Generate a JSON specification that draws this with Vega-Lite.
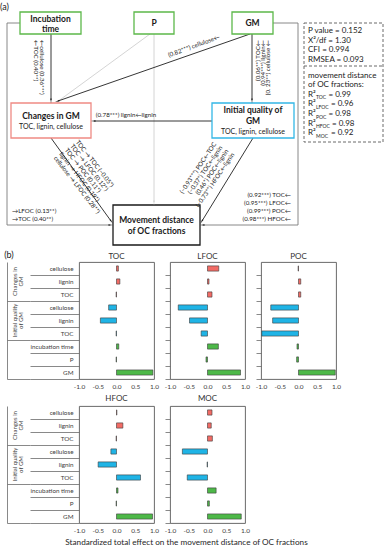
{
  "$schema": "https://vega.github.io/schema/vega-lite/v6.json",
  "padding": 0,
  "background": "white",
  "config": {
    "font": "Lato",
    "view": {"stroke": "#595959", "strokeWidth": 0.9},
    "axis": {"labelColor": "#404040", "tickColor": "#6b6b6b", "domainColor": "#6b6b6b", "labelFontSize": 6.3, "grid": false, "tickWidth": 0.8, "domainWidth": 0.8},
    "title": {"fontSize": 8, "fontWeight": "normal", "color": "#333333", "offset": 1, "frame": "group"}
  },
  "title": {"text": "Standardized total effect on  the movement distance of OC fractions", "orient": "bottom", "anchor": "middle", "frame": "bounds", "fontSize": 8.2, "fontWeight": "normal", "offset": 5, "dx": -7, "color": "#262626"},
  "resolve": {"scale": {"color": "independent"}},
  "data": {"name": "effects"},
  "datasets": {
    "effects": [
      {"fraction": "TOC", "group": "Changes in GM", "term": "Changes in GM · cellulose", "value": 0.05},
      {"fraction": "TOC", "group": "Changes in GM", "term": "Changes in GM · lignin", "value": 0.09},
      {"fraction": "TOC", "group": "Changes in GM", "term": "Changes in GM · TOC", "value": -0.01},
      {"fraction": "TOC", "group": "Initial quality of GM", "term": "Initial quality of GM · cellulose", "value": -0.21},
      {"fraction": "TOC", "group": "Initial quality of GM", "term": "Initial quality of GM · lignin", "value": -0.43},
      {"fraction": "TOC", "group": "Initial quality of GM", "term": "Initial quality of GM · TOC", "value": -0.01},
      {"fraction": "TOC", "group": "Other", "term": "Other · incubation time", "value": 0.06},
      {"fraction": "TOC", "group": "Other", "term": "Other · P", "value": -0.01},
      {"fraction": "TOC", "group": "Other", "term": "Other · GM", "value": 0.97},
      {"fraction": "LFOC", "group": "Changes in GM", "term": "Changes in GM · cellulose", "value": 0.30},
      {"fraction": "LFOC", "group": "Changes in GM", "term": "Changes in GM · lignin", "value": 0.04},
      {"fraction": "LFOC", "group": "Changes in GM", "term": "Changes in GM · TOC", "value": 0.12},
      {"fraction": "LFOC", "group": "Initial quality of GM", "term": "Initial quality of GM · cellulose", "value": -0.78},
      {"fraction": "LFOC", "group": "Initial quality of GM", "term": "Initial quality of GM · lignin", "value": -0.48},
      {"fraction": "LFOC", "group": "Initial quality of GM", "term": "Initial quality of GM · TOC", "value": -0.17},
      {"fraction": "LFOC", "group": "Other", "term": "Other · incubation time", "value": 0.29},
      {"fraction": "LFOC", "group": "Other", "term": "Other · P", "value": -0.04},
      {"fraction": "LFOC", "group": "Other", "term": "Other · GM", "value": 0.88},
      {"fraction": "POC", "group": "Changes in GM", "term": "Changes in GM · cellulose", "value": -0.01},
      {"fraction": "POC", "group": "Changes in GM", "term": "Changes in GM · lignin", "value": 0.06},
      {"fraction": "POC", "group": "Changes in GM", "term": "Changes in GM · TOC", "value": 0.06},
      {"fraction": "POC", "group": "Initial quality of GM", "term": "Initial quality of GM · cellulose", "value": -0.74},
      {"fraction": "POC", "group": "Initial quality of GM", "term": "Initial quality of GM · lignin", "value": -0.69},
      {"fraction": "POC", "group": "Initial quality of GM", "term": "Initial quality of GM · TOC", "value": -0.98},
      {"fraction": "POC", "group": "Other", "term": "Other · incubation time", "value": -0.04},
      {"fraction": "POC", "group": "Other", "term": "Other · P", "value": -0.05},
      {"fraction": "POC", "group": "Other", "term": "Other · GM", "value": 0.98},
      {"fraction": "HFOC", "group": "Changes in GM", "term": "Changes in GM · cellulose", "value": 0.01},
      {"fraction": "HFOC", "group": "Changes in GM", "term": "Changes in GM · lignin", "value": 0.17},
      {"fraction": "HFOC", "group": "Changes in GM", "term": "Changes in GM · TOC", "value": -0.01},
      {"fraction": "HFOC", "group": "Initial quality of GM", "term": "Initial quality of GM · cellulose", "value": -0.15},
      {"fraction": "HFOC", "group": "Initial quality of GM", "term": "Initial quality of GM · lignin", "value": -0.49},
      {"fraction": "HFOC", "group": "Initial quality of GM", "term": "Initial quality of GM · TOC", "value": 0.64},
      {"fraction": "HFOC", "group": "Other", "term": "Other · incubation time", "value": 0.04},
      {"fraction": "HFOC", "group": "Other", "term": "Other · P", "value": -0.01},
      {"fraction": "HFOC", "group": "Other", "term": "Other · GM", "value": 0.96},
      {"fraction": "MOC", "group": "Changes in GM", "term": "Changes in GM · cellulose", "value": 0.12},
      {"fraction": "MOC", "group": "Changes in GM", "term": "Changes in GM · lignin", "value": 0.10},
      {"fraction": "MOC", "group": "Changes in GM", "term": "Changes in GM · TOC", "value": 0.13},
      {"fraction": "MOC", "group": "Initial quality of GM", "term": "Initial quality of GM · cellulose", "value": -0.67},
      {"fraction": "MOC", "group": "Initial quality of GM", "term": "Initial quality of GM · lignin", "value": -0.01},
      {"fraction": "MOC", "group": "Initial quality of GM", "term": "Initial quality of GM · TOC", "value": -0.54},
      {"fraction": "MOC", "group": "Other", "term": "Other · incubation time", "value": 0.23},
      {"fraction": "MOC", "group": "Other", "term": "Other · P", "value": 0.05},
      {"fraction": "MOC", "group": "Other", "term": "Other · GM", "value": 0.90}
    ],
    "nodes": [
      {"role": "driver", "name": "Incubation time", "x": 20, "x2": 81, "y": 12, "y2": 34},
      {"role": "driver", "name": "P", "x": 134, "x2": 174, "y": 12, "y2": 34},
      {"role": "driver", "name": "GM", "x": 232, "x2": 273, "y": 12, "y2": 34},
      {"role": "change", "name": "Changes in GM", "x": 11, "x2": 91, "y": 103, "y2": 138},
      {"role": "quality", "name": "Initial quality of GM", "x": 212, "x2": 294, "y": 103, "y2": 138},
      {"role": "outcome", "name": "Movement distance of OC fractions", "x": 113, "x2": 200, "y": 205, "y2": 245},
      {"role": "fit", "name": "model fit", "x": 304, "x2": 383, "y": 23, "y2": 142}
    ],
    "links": [
      {"tone": "frame", "x": 20, "y": 23, "x2": 7, "y2": 23},
      {"tone": "frame", "x": 7, "y": 23, "x2": 7, "y2": 225},
      {"tone": "frame", "x": 7, "y": 225, "x2": 110, "y2": 225},
      {"tone": "frame", "x": 273, "y": 23, "x2": 298, "y2": 23},
      {"tone": "frame", "x": 298, "y": 23, "x2": 298, "y2": 225},
      {"tone": "frame", "x": 298, "y": 225, "x2": 203, "y2": 225},
      {"tone": "light", "x": 150, "y": 34, "x2": 57, "y2": 102},
      {"tone": "light", "x": 154, "y": 34, "x2": 154, "y2": 202},
      {"tone": "main", "x": 51, "y": 34, "x2": 51, "y2": 100},
      {"tone": "main", "x": 250, "y": 34, "x2": 58, "y2": 101},
      {"tone": "main", "x": 252, "y": 34, "x2": 252, "y2": 100},
      {"tone": "main", "x": 212, "y": 121, "x2": 94, "y2": 121},
      {"tone": "main", "x": 51, "y": 138, "x2": 111, "y2": 221},
      {"tone": "main", "x": 253, "y": 138, "x2": 202, "y2": 221},
      {"tone": "divider", "x": 304, "y": 66, "x2": 383, "y2": 66}
    ],
    "heads": [
      {"tone": "main", "x": 110, "y": 225, "angle": 90},
      {"tone": "main", "x": 203, "y": 225, "angle": 270},
      {"tone": "main", "x": 51, "y": 100, "angle": 180},
      {"tone": "main", "x": 58, "y": 101, "angle": 251},
      {"tone": "main", "x": 252, "y": 100, "angle": 180},
      {"tone": "main", "x": 94, "y": 121, "angle": 270},
      {"tone": "main", "x": 111, "y": 221, "angle": 144},
      {"tone": "main", "x": 202, "y": 221, "angle": 212},
      {"tone": "light", "x": 154, "y": 202, "angle": 180}
    ],
    "notes": [
      {"role": "tag", "text": "  (a)", "x": 0, "y": 7, "angle": 0},
      {"role": "node", "text": "Incubation", "x": 50.5, "y": 18.5, "angle": 0},
      {"role": "node", "text": "time", "x": 50.5, "y": 29, "angle": 0},
      {"role": "node", "text": "P", "x": 154, "y": 23, "angle": 0},
      {"role": "node", "text": "GM", "x": 252.5, "y": 23, "angle": 0},
      {"role": "node", "text": "Changes in GM", "x": 51, "y": 115.5, "angle": 0},
      {"role": "node", "text": "Initial quality of", "x": 253, "y": 110, "angle": 0},
      {"role": "node", "text": "GM", "x": 253, "y": 121, "angle": 0},
      {"role": "node", "text": "Movement distance", "x": 156.5, "y": 220, "angle": 0},
      {"role": "node", "text": "of OC fractions", "x": 156.5, "y": 231, "angle": 0},
      {"role": "node-sub", "text": "TOC, lignin, cellulose", "x": 51, "y": 126.5, "angle": 0},
      {"role": "node-sub", "text": "TOC, lignin, cellulose", "x": 253, "y": 132, "angle": 0},
      {"role": "start", "text": "←TOC (0.40**)", "x": 36, "y": 40, "angle": 90},
      {"role": "start", "text": "←cellulose (0.36***)", "x": 42, "y": 40, "angle": 90},
      {"role": "start", "text": "TOC → TOC (−0.05*)", "x": 77, "y": 141, "angle": 52},
      {"role": "start", "text": "TOC → LFOC (0.12*)", "x": 71.5, "y": 145, "angle": 52},
      {"role": "start", "text": "TOC → POC (0.11*)", "x": 66, "y": 149, "angle": 52},
      {"role": "start", "text": "lignin → HFOC (0.19*)", "x": 60.5, "y": 153, "angle": 52},
      {"role": "start", "text": "cellulose → LFOC (0.28**)", "x": 55, "y": 157, "angle": 52},
      {"role": "start", "text": "→LFOC (0.13**)", "x": 12, "y": 211, "angle": 0},
      {"role": "start", "text": "→TOC (0.40**)", "x": 12, "y": 219, "angle": 0},
      {"role": "end", "text": "(0.06**) TOC←", "x": 258, "y": 40, "angle": -90},
      {"role": "end", "text": "(0.94***) lignin←", "x": 263, "y": 40, "angle": -90},
      {"role": "end", "text": "(0. 23**) cellulose ←", "x": 268, "y": 40, "angle": -90},
      {"role": "end", "text": "(−0.93***) POC←TOC", "x": 215, "y": 143, "angle": -56},
      {"role": "end", "text": "(−0.37*) TOC←lignin", "x": 221, "y": 146.5, "angle": -56},
      {"role": "end", "text": "(0.46*) POC←lignin", "x": 227, "y": 150, "angle": -56},
      {"role": "end", "text": "(−0.73**) HFOC←lignin", "x": 233, "y": 153.5, "angle": -56},
      {"role": "end", "text": "(0.92***) TOC←", "x": 291, "y": 195, "angle": 0},
      {"role": "end", "text": "(0.95***) LFOC←", "x": 291, "y": 203, "angle": 0},
      {"role": "end", "text": "(0.99***) POC←", "x": 291, "y": 211, "angle": 0},
      {"role": "end", "text": "(0.98***) HFOC←", "x": 291, "y": 218.5, "angle": 0},
      {"role": "mid", "text": "(0.82***) cellulose←", "x": 194, "y": 46, "angle": -20},
      {"role": "mid", "text": "(0.78***) lignin←lignin", "x": 126, "y": 114.5, "angle": 0},
      {"role": "fit", "text": "P value = 0.152", "x": 308, "y": 31, "angle": 0},
      {"role": "fit", "text": "X²/df = 1.30", "x": 308, "y": 40.5, "angle": 0},
      {"role": "fit", "text": "CFI = 0.994", "x": 308, "y": 50, "angle": 0},
      {"role": "fit", "text": "RMSEA = 0.093", "x": 308, "y": 59.5, "angle": 0},
      {"role": "fit", "text": "movement distance", "x": 308, "y": 76, "angle": 0},
      {"role": "fit", "text": "of OC fractions:", "x": 308, "y": 85, "angle": 0},
      {"role": "fit", "text": "R²", "x": 308, "y": 94.5, "angle": 0},
      {"role": "fit", "text": "R²", "x": 308, "y": 104, "angle": 0},
      {"role": "fit", "text": "R²", "x": 308, "y": 114, "angle": 0},
      {"role": "fit", "text": "R²", "x": 308, "y": 123.5, "angle": 0},
      {"role": "fit", "text": "R²", "x": 308, "y": 133, "angle": 0},
      {"role": "fit", "text": "= 0.99", "x": 328.5, "y": 94.5, "angle": 0},
      {"role": "fit", "text": "= 0.96", "x": 331, "y": 104, "angle": 0},
      {"role": "fit", "text": "= 0.98", "x": 328.5, "y": 114, "angle": 0},
      {"role": "fit", "text": "= 0.98", "x": 332, "y": 123.5, "angle": 0},
      {"role": "fit", "text": "= 0.92", "x": 331, "y": 133, "angle": 0},
      {"role": "fit-sub", "text": "TOC", "x": 316, "y": 97, "angle": 0},
      {"role": "fit-sub", "text": "LFOC", "x": 316, "y": 106.5, "angle": 0},
      {"role": "fit-sub", "text": "POC", "x": 316, "y": 116.5, "angle": 0},
      {"role": "fit-sub", "text": "HFOC", "x": 316, "y": 126, "angle": 0},
      {"role": "fit-sub", "text": "MOC", "x": 316, "y": 135.5, "angle": 0}
    ]
  },
  "spacing": 4,
  "vconcat": [
    {
      "width": 308,
      "height": 246,
      "view": {"stroke": null},
      "encoding": {
        "x": {"field": "x", "type": "quantitative", "scale": {"domain": [79, 387], "nice": false, "zero": false}, "axis": null},
        "y": {"field": "y", "type": "quantitative", "scale": {"domain": [0, 246], "nice": false, "zero": false, "reverse": true}, "axis": null}
      },
      "layer": [
        {
          "data": {"name": "links"},
          "transform": [{"filter": "datum.tone !== 'divider'"}],
          "mark": {"type": "rule", "strokeWidth": 0.9},
          "encoding": {
            "x2": {"field": "x2"},
            "y2": {"field": "y2"},
            "color": {"field": "tone", "type": "nominal", "scale": {"domain": ["main", "light", "frame"], "range": ["#1f1f1f", "#cfcfcf", "#7a7a7a"]}, "legend": null}
          }
        },
        {
          "data": {"name": "links"},
          "transform": [{"filter": "datum.tone === 'divider'"}],
          "mark": {"type": "rule", "strokeWidth": 1, "strokeDash": [3, 2], "color": "#6b6b6b"},
          "encoding": {"x2": {"field": "x2"}, "y2": {"field": "y2"}}
        },
        {
          "data": {"name": "nodes"},
          "transform": [{"filter": "datum.role !== 'fit'"}],
          "mark": {"type": "rect", "fill": "white", "strokeWidth": 1.3},
          "encoding": {
            "x2": {"field": "x2"},
            "y2": {"field": "y2"},
            "stroke": {"field": "role", "type": "nominal", "scale": {"domain": ["driver", "change", "quality", "outcome"], "range": ["#5CB84A", "#EF8A84", "#33B7E6", "#1a1a1a"]}, "legend": null}
          }
        },
        {
          "data": {"name": "nodes"},
          "transform": [{"filter": "datum.role === 'fit'"}],
          "mark": {"type": "rect", "filled": false, "stroke": "#6b6b6b", "strokeWidth": 1, "strokeDash": [3, 2]},
          "encoding": {"x2": {"field": "x2"}, "y2": {"field": "y2"}}
        },
        {
          "data": {"name": "heads"},
          "mark": {"type": "point", "shape": "wedge", "filled": true, "size": 30, "opacity": 1},
          "encoding": {
            "angle": {"field": "angle", "type": "quantitative", "scale": null},
            "color": {"field": "tone", "type": "nominal", "scale": {"domain": ["main", "light", "frame"], "range": ["#1f1f1f", "#cfcfcf", "#7a7a7a"]}, "legend": null}
          }
        },
        {
          "data": {"name": "notes"},
          "transform": [{"filter": "datum.role === 'tag'"}],
          "mark": {"type": "text", "align": "left", "baseline": "middle", "fontSize": 9, "color": "#1a1a1a"},
          "encoding": {"text": {"field": "text"}}
        },
        {
          "data": {"name": "notes"},
          "transform": [{"filter": "datum.role === 'node'"}],
          "mark": {"type": "text", "align": "center", "baseline": "middle", "fontSize": 8.5, "fontWeight": "bold", "color": "#1a1a1a"},
          "encoding": {"text": {"field": "text"}}
        },
        {
          "data": {"name": "notes"},
          "transform": [{"filter": "datum.role === 'node-sub'"}],
          "mark": {"type": "text", "align": "center", "baseline": "middle", "fontSize": 7, "color": "#1a1a1a"},
          "encoding": {"text": {"field": "text"}}
        },
        {
          "data": {"name": "notes"},
          "transform": [{"filter": "datum.role === 'start'"}],
          "mark": {"type": "text", "align": "left", "baseline": "middle", "fontSize": 6.2, "color": "#1a1a1a"},
          "encoding": {"angle": {"field": "angle", "type": "quantitative", "scale": null}, "text": {"field": "text"}}
        },
        {
          "data": {"name": "notes"},
          "transform": [{"filter": "datum.role === 'end'"}],
          "mark": {"type": "text", "align": "right", "baseline": "middle", "fontSize": 6.2, "color": "#1a1a1a"},
          "encoding": {"angle": {"field": "angle", "type": "quantitative", "scale": null}, "text": {"field": "text"}}
        },
        {
          "data": {"name": "notes"},
          "transform": [{"filter": "datum.role === 'mid'"}],
          "mark": {"type": "text", "align": "center", "baseline": "middle", "fontSize": 6.2, "color": "#1a1a1a"},
          "encoding": {"angle": {"field": "angle", "type": "quantitative", "scale": null}, "text": {"field": "text"}}
        },
        {
          "data": {"name": "notes"},
          "transform": [{"filter": "datum.role === 'fit'"}],
          "mark": {"type": "text", "align": "left", "baseline": "middle", "fontSize": 8, "color": "#1a1a1a"},
          "encoding": {"text": {"field": "text"}}
        },
        {
          "data": {"name": "notes"},
          "transform": [{"filter": "datum.role === 'fit-sub'"}],
          "mark": {"type": "text", "align": "left", "baseline": "middle", "fontSize": 5, "color": "#1a1a1a"},
          "encoding": {"text": {"field": "text"}}
        }
      ]
    },
    {
      "title": {"text": "(b)", "anchor": "start", "frame": "bounds", "fontSize": 9, "color": "#1a1a1a", "offset": 1, "dx": -2, "dy": 8},
      "spacing": 4,
      "hconcat": [
        {
          "title": "TOC",
          "width": 75,
          "height": 117,
          "transform": [{"filter": "datum.fraction === 'TOC'"}],
          "encoding": {
            "x": {"field": "value", "type": "quantitative", "stack": null, "scale": {"domain": [-1, 1], "nice": false}, "axis": {"title": null, "values": [-1, -0.5, 0, 0.5, 1], "ticks": false, "domain": false, "labelPadding": 4, "labelFontSize": 6.5, "labelFlush": false, "labelOverlap": false, "labelExpr": "replace(format(datum.value, '.1f'), '\u2212', '-')"}}
          },
          "layer": [
            {
              "mark": {"type": "bar", "height": {"band": 0.4}, "stroke": "#3a3a3a", "strokeWidth": 0.6},
              "encoding": {
                "y": {"field": "term", "type": "nominal", "scale": {"domain": ["Changes in GM · cellulose", "Changes in GM · lignin", "Changes in GM · TOC", "Initial quality of GM · cellulose", "Initial quality of GM · lignin", "Initial quality of GM · TOC", "Other · incubation time", "Other · P", "Other · GM"], "paddingInner": 0, "paddingOuter": 0},
                  "axis": {"orient": "left", "title": null, "domain": false, "bandPosition": 1, "tickExtra": false, "tickSize": 49, "labelPadding": -43, "labelFontSize": 6.3, "labelExpr": "split(datum.value, ' · ')[1]"}},
                "color": {"field": "group", "type": "nominal", "scale": {"domain": ["Changes in GM", "Initial quality of GM", "Other"], "range": ["#F26B65", "#1FB4E6", "#4DB848"]}, "legend": null}
              }
            },
            {
              "mark": {"type": "point", "opacity": 0},
              "encoding": {
                "y": {"field": "group", "type": "nominal", "scale": {"type": "band", "domain": ["Changes in GM", "Initial quality of GM", "Other"], "paddingInner": 0, "paddingOuter": 0},
                  "axis": {"orient": "left", "offset": 49, "title": null, "domain": false, "labels": false, "bandPosition": 1, "tickExtra": false, "tickSize": 23}}
              }
            },
            {
              "mark": {"type": "point", "opacity": 0},
              "encoding": {
                "y": {"field": "group", "type": "nominal", "scale": {"type": "band", "domain": ["Changes in GM", "Initial quality of GM", "Other"], "paddingInner": 0, "paddingOuter": 0},
                  "axis": {"orient": "left", "offset": 72, "title": null, "domain": true, "ticks": false, "tickSize": 0, "labelAngle": -90, "labelAlign": "center", "labelBaseline": "middle", "labelPadding": -7, "labelFontSize": 6, "labelLineHeight": 6.5, "labelColor": "#404040",
                    "labelExpr": "datum.value === 'Changes in GM' ? ['Changes in', 'GM'] : datum.value === 'Initial quality of GM' ? ['Initial quality', 'of GM'] : ''"}}
              }
            }
          ],
          "resolve": {"scale": {"y": "independent"}, "axis": {"y": "independent"}}
        },
        {
          "title": "LFOC",
          "width": 75,
          "height": 117,
          "transform": [{"filter": "datum.fraction === 'LFOC'"}],
          "mark": {"type": "bar", "height": {"band": 0.4}, "stroke": "#3a3a3a", "strokeWidth": 0.6},
          "encoding": {
            "y": {"field": "term", "type": "nominal", "scale": {"domain": ["Changes in GM · cellulose", "Changes in GM · lignin", "Changes in GM · TOC", "Initial quality of GM · cellulose", "Initial quality of GM · lignin", "Initial quality of GM · TOC", "Other · incubation time", "Other · P", "Other · GM"], "paddingInner": 0, "paddingOuter": 0},
              "axis": {"orient": "left", "title": null, "domain": false, "labels": false, "bandPosition": 1, "tickExtra": false, "tickSize": 5}},
            "x": {"field": "value", "type": "quantitative", "stack": null, "scale": {"domain": [-1, 1], "nice": false}, "axis": {"title": null, "values": [-1, -0.5, 0, 0.5, 1], "ticks": false, "domain": false, "labelPadding": 4, "labelFontSize": 6.5, "labelFlush": false, "labelOverlap": false, "labelExpr": "replace(format(datum.value, '.1f'), '\u2212', '-')"}},
            "color": {"field": "group", "type": "nominal", "scale": {"domain": ["Changes in GM", "Initial quality of GM", "Other"], "range": ["#F26B65", "#1FB4E6", "#4DB848"]}, "legend": null}
          }
        },
        {
          "title": "POC",
          "width": 75,
          "height": 117,
          "transform": [{"filter": "datum.fraction === 'POC'"}],
          "mark": {"type": "bar", "height": {"band": 0.4}, "stroke": "#3a3a3a", "strokeWidth": 0.6},
          "encoding": {
            "y": {"field": "term", "type": "nominal", "scale": {"domain": ["Changes in GM · cellulose", "Changes in GM · lignin", "Changes in GM · TOC", "Initial quality of GM · cellulose", "Initial quality of GM · lignin", "Initial quality of GM · TOC", "Other · incubation time", "Other · P", "Other · GM"], "paddingInner": 0, "paddingOuter": 0},
              "axis": {"orient": "left", "title": null, "domain": false, "labels": false, "bandPosition": 1, "tickExtra": false, "tickSize": 5}},
            "x": {"field": "value", "type": "quantitative", "stack": null, "scale": {"domain": [-1, 1], "nice": false}, "axis": {"title": null, "values": [-1, -0.5, 0, 0.5, 1], "ticks": false, "domain": false, "labelPadding": 4, "labelFontSize": 6.5, "labelFlush": false, "labelOverlap": false, "labelExpr": "replace(format(datum.value, '.1f'), '\u2212', '-')"}},
            "color": {"field": "group", "type": "nominal", "scale": {"domain": ["Changes in GM", "Initial quality of GM", "Other"], "range": ["#F26B65", "#1FB4E6", "#4DB848"]}, "legend": null}
          }
        }
      ]
    },
    {
      "spacing": 4,
      "hconcat": [
        {
          "title": {"text": "HFOC", "offset": 3},
          "width": 75,
          "height": 117,
          "transform": [{"filter": "datum.fraction === 'HFOC'"}],
          "encoding": {
            "x": {"field": "value", "type": "quantitative", "stack": null, "scale": {"domain": [-1, 1], "nice": false}, "axis": {"title": null, "values": [-1, -0.5, 0, 0.5, 1], "ticks": false, "domain": false, "labelPadding": 4, "labelFontSize": 6.5, "labelFlush": false, "labelOverlap": false, "labelExpr": "replace(format(datum.value, '.1f'), '\u2212', '-')"}}
          },
          "layer": [
            {
              "mark": {"type": "bar", "height": {"band": 0.4}, "stroke": "#3a3a3a", "strokeWidth": 0.6},
              "encoding": {
                "y": {"field": "term", "type": "nominal", "scale": {"domain": ["Changes in GM · cellulose", "Changes in GM · lignin", "Changes in GM · TOC", "Initial quality of GM · cellulose", "Initial quality of GM · lignin", "Initial quality of GM · TOC", "Other · incubation time", "Other · P", "Other · GM"], "paddingInner": 0, "paddingOuter": 0},
                  "axis": {"orient": "left", "title": null, "domain": false, "bandPosition": 1, "tickExtra": false, "tickSize": 49, "labelPadding": -43, "labelFontSize": 6.3, "labelExpr": "split(datum.value, ' · ')[1]"}},
                "color": {"field": "group", "type": "nominal", "scale": {"domain": ["Changes in GM", "Initial quality of GM", "Other"], "range": ["#F26B65", "#1FB4E6", "#4DB848"]}, "legend": null}
              }
            },
            {
              "mark": {"type": "point", "opacity": 0},
              "encoding": {
                "y": {"field": "group", "type": "nominal", "scale": {"type": "band", "domain": ["Changes in GM", "Initial quality of GM", "Other"], "paddingInner": 0, "paddingOuter": 0},
                  "axis": {"orient": "left", "offset": 49, "title": null, "domain": false, "labels": false, "bandPosition": 1, "tickExtra": false, "tickSize": 23}}
              }
            },
            {
              "mark": {"type": "point", "opacity": 0},
              "encoding": {
                "y": {"field": "group", "type": "nominal", "scale": {"type": "band", "domain": ["Changes in GM", "Initial quality of GM", "Other"], "paddingInner": 0, "paddingOuter": 0},
                  "axis": {"orient": "left", "offset": 72, "title": null, "domain": true, "ticks": false, "tickSize": 0, "labelAngle": -90, "labelAlign": "center", "labelBaseline": "middle", "labelPadding": -7, "labelFontSize": 6, "labelLineHeight": 6.5, "labelColor": "#404040",
                    "labelExpr": "datum.value === 'Changes in GM' ? ['Changes in', 'GM'] : datum.value === 'Initial quality of GM' ? ['Initial quality', 'of GM'] : ''"}}
              }
            }
          ],
          "resolve": {"scale": {"y": "independent"}, "axis": {"y": "independent"}}
        },
        {
          "title": {"text": "MOC", "offset": 3},
          "width": 75,
          "height": 117,
          "transform": [{"filter": "datum.fraction === 'MOC'"}],
          "mark": {"type": "bar", "height": {"band": 0.4}, "stroke": "#3a3a3a", "strokeWidth": 0.6},
          "encoding": {
            "y": {"field": "term", "type": "nominal", "scale": {"domain": ["Changes in GM · cellulose", "Changes in GM · lignin", "Changes in GM · TOC", "Initial quality of GM · cellulose", "Initial quality of GM · lignin", "Initial quality of GM · TOC", "Other · incubation time", "Other · P", "Other · GM"], "paddingInner": 0, "paddingOuter": 0},
              "axis": {"orient": "left", "title": null, "domain": false, "labels": false, "bandPosition": 1, "tickExtra": false, "tickSize": 5}},
            "x": {"field": "value", "type": "quantitative", "stack": null, "scale": {"domain": [-1, 1], "nice": false}, "axis": {"title": null, "values": [-1, -0.5, 0, 0.5, 1], "ticks": false, "domain": false, "labelPadding": 4, "labelFontSize": 6.5, "labelFlush": false, "labelOverlap": false, "labelExpr": "replace(format(datum.value, '.1f'), '\u2212', '-')"}},
            "color": {"field": "group", "type": "nominal", "scale": {"domain": ["Changes in GM", "Initial quality of GM", "Other"], "range": ["#F26B65", "#1FB4E6", "#4DB848"]}, "legend": null}
          }
        }
      ]
    }
  ]
}
